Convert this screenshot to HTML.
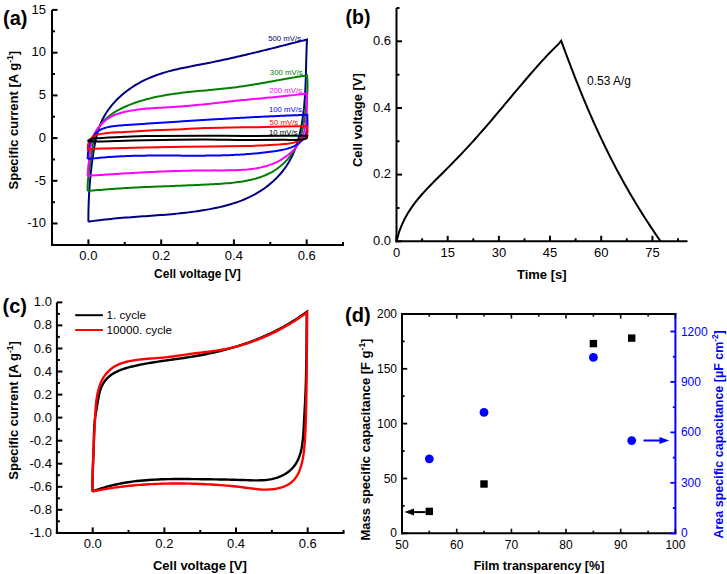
<!DOCTYPE html>
<html><head><meta charset="utf-8"><style>
html,body{margin:0;padding:0;background:#fff;}
svg{display:block;font-family:"Liberation Sans", sans-serif;}
</style></head><body>
<svg width="727" height="574" viewBox="0 0 727 574">
<rect width="727" height="574" fill="#fff"/>
<g>
<line x1="52" y1="9.9" x2="52" y2="245.9" stroke="#000" stroke-width="2" stroke-linecap="butt"/>
<line x1="51" y1="244.9" x2="344" y2="244.9" stroke="#000" stroke-width="2" stroke-linecap="butt"/>
<line x1="52" y1="244.9" x2="55" y2="244.9" stroke="#000" stroke-width="2" stroke-linecap="butt"/>
<line x1="52" y1="223.5" x2="57.5" y2="223.5" stroke="#000" stroke-width="2" stroke-linecap="butt"/>
<text x="46" y="227.2" font-size="13" text-anchor="end">-10</text>
<line x1="52" y1="202.2" x2="55" y2="202.2" stroke="#000" stroke-width="2" stroke-linecap="butt"/>
<line x1="52" y1="180.8" x2="57.5" y2="180.8" stroke="#000" stroke-width="2" stroke-linecap="butt"/>
<text x="46" y="184.5" font-size="13" text-anchor="end">-5</text>
<line x1="52" y1="159.5" x2="55" y2="159.5" stroke="#000" stroke-width="2" stroke-linecap="butt"/>
<line x1="52" y1="138.1" x2="57.5" y2="138.1" stroke="#000" stroke-width="2" stroke-linecap="butt"/>
<text x="46" y="141.8" font-size="13" text-anchor="end">0</text>
<line x1="52" y1="116.7" x2="55" y2="116.7" stroke="#000" stroke-width="2" stroke-linecap="butt"/>
<line x1="52" y1="95.4" x2="57.5" y2="95.4" stroke="#000" stroke-width="2" stroke-linecap="butt"/>
<text x="46" y="99.1" font-size="13" text-anchor="end">5</text>
<line x1="52" y1="74" x2="55" y2="74" stroke="#000" stroke-width="2" stroke-linecap="butt"/>
<line x1="52" y1="52.7" x2="57.5" y2="52.7" stroke="#000" stroke-width="2" stroke-linecap="butt"/>
<text x="46" y="56.4" font-size="13" text-anchor="end">10</text>
<line x1="52" y1="31.3" x2="55" y2="31.3" stroke="#000" stroke-width="2" stroke-linecap="butt"/>
<line x1="52" y1="9.9" x2="57.5" y2="9.9" stroke="#000" stroke-width="2" stroke-linecap="butt"/>
<text x="46" y="13.6" font-size="13" text-anchor="end">15</text>
<line x1="52" y1="244.9" x2="52" y2="241.9" stroke="#000" stroke-width="2" stroke-linecap="butt"/>
<line x1="88.4" y1="244.9" x2="88.4" y2="239.4" stroke="#000" stroke-width="2" stroke-linecap="butt"/>
<text x="88.4" y="259.7" font-size="13" text-anchor="middle">0.0</text>
<line x1="124.8" y1="244.9" x2="124.8" y2="241.9" stroke="#000" stroke-width="2" stroke-linecap="butt"/>
<line x1="161.2" y1="244.9" x2="161.2" y2="239.4" stroke="#000" stroke-width="2" stroke-linecap="butt"/>
<text x="161.2" y="259.7" font-size="13" text-anchor="middle">0.2</text>
<line x1="197.5" y1="244.9" x2="197.5" y2="241.9" stroke="#000" stroke-width="2" stroke-linecap="butt"/>
<line x1="233.9" y1="244.9" x2="233.9" y2="239.4" stroke="#000" stroke-width="2" stroke-linecap="butt"/>
<text x="233.9" y="259.7" font-size="13" text-anchor="middle">0.4</text>
<line x1="270.3" y1="244.9" x2="270.3" y2="241.9" stroke="#000" stroke-width="2" stroke-linecap="butt"/>
<line x1="306.7" y1="244.9" x2="306.7" y2="239.4" stroke="#000" stroke-width="2" stroke-linecap="butt"/>
<text x="306.7" y="259.7" font-size="13" text-anchor="middle">0.6</text>
<line x1="343" y1="244.9" x2="343" y2="241.9" stroke="#000" stroke-width="2" stroke-linecap="butt"/>
<text x="197.4" y="277.8" font-size="12" text-anchor="middle" font-weight="bold">Cell voltage [V]</text>
<text x="18.3" y="120.2" font-size="13" font-weight="bold" text-anchor="middle" transform="rotate(-90 18.3 120.2)">Specific current [A g<tspan font-size="8.5" dy="-5">-1</tspan><tspan dy="5">]</tspan></text>
<text x="3" y="24.8" font-size="20" font-weight="bold">(a)</text>
</g>
<path d="M88.40,221.70 L88.39,218.90 L88.40,216.11 L88.43,213.32 L88.48,210.54 L88.54,207.76 L88.62,204.99 L88.71,202.22 L88.83,199.45 L88.96,196.69 L89.10,193.93 L89.27,191.17 L89.45,188.41 L89.65,185.66 L89.86,182.90 L90.10,180.15 L90.35,177.40 L90.62,174.64 L90.90,171.89 L91.21,169.13 L91.53,166.38 L91.86,163.62 L92.22,160.86 L92.59,158.10 L92.98,155.34 L93.39,152.57 L93.82,149.80 L94.28,147.04 L94.78,144.29 L95.32,141.55 L95.91,138.82 L96.56,136.12 L97.27,133.44 L98.05,130.78 L98.90,128.16 L99.84,125.58 L100.87,123.03 L101.99,120.53 L103.22,118.08 L104.54,115.68 L105.96,113.32 L107.48,111.02 L109.08,108.77 L110.76,106.57 L112.52,104.43 L114.36,102.34 L116.28,100.31 L118.26,98.34 L120.30,96.42 L122.41,94.56 L124.57,92.76 L126.79,91.02 L129.06,89.35 L131.37,87.74 L133.72,86.19 L136.11,84.71 L138.54,83.29 L141.00,81.94 L143.48,80.66 L145.98,79.44 L148.51,78.30 L151.05,77.22 L153.62,76.20 L156.20,75.23 L158.79,74.33 L161.40,73.47 L164.03,72.66 L166.67,71.89 L169.32,71.16 L171.98,70.47 L174.65,69.81 L177.33,69.19 L180.02,68.58 L182.72,68.00 L185.42,67.44 L188.13,66.90 L190.84,66.37 L193.56,65.84 L196.28,65.33 L199.00,64.81 L201.72,64.29 L204.44,63.77 L207.16,63.23 L209.87,62.69 L212.59,62.14 L215.30,61.58 L218.01,61.01 L220.73,60.44 L223.44,59.85 L226.14,59.26 L228.85,58.66 L231.56,58.06 L234.26,57.45 L236.97,56.83 L239.67,56.20 L242.37,55.57 L245.07,54.94 L247.77,54.30 L250.47,53.65 L253.16,53.00 L255.86,52.35 L258.56,51.69 L261.25,51.03 L263.95,50.36 L266.64,49.69 L269.33,49.02 L272.03,48.35 L274.72,47.67 L277.41,46.99 L280.10,46.32 L282.79,45.63 L285.48,44.95 L288.17,44.27 L290.86,43.59 L293.55,42.90 L296.24,42.22 L298.93,41.54 L301.62,40.86 L304.31,40.18 L307.00,39.50 L307.00,39.50 L306.86,42.36 L306.74,45.22 L306.62,48.08 L306.53,50.95 L306.44,53.81 L306.36,56.68 L306.28,59.56 L306.21,62.43 L306.14,65.30 L306.07,68.18 L305.99,71.06 L305.92,73.93 L305.83,76.81 L305.74,79.68 L305.64,82.56 L305.53,85.43 L305.40,88.31 L305.25,91.18 L305.09,94.05 L304.91,96.92 L304.70,99.78 L304.47,102.64 L304.21,105.50 L303.93,108.36 L303.61,111.21 L303.26,114.06 L302.88,116.90 L302.46,119.74 L302.01,122.57 L301.51,125.40 L300.97,128.22 L300.38,131.04 L299.74,133.84 L299.05,136.62 L298.30,139.39 L297.49,142.14 L296.61,144.87 L295.66,147.57 L294.64,150.24 L293.54,152.88 L292.36,155.48 L291.10,158.05 L289.74,160.57 L288.30,163.06 L286.75,165.49 L285.11,167.88 L283.37,170.22 L281.54,172.50 L279.62,174.72 L277.62,176.89 L275.54,178.99 L273.40,181.02 L271.19,182.99 L268.92,184.88 L266.60,186.70 L264.23,188.45 L261.81,190.11 L259.36,191.69 L256.88,193.19 L254.37,194.61 L251.83,195.95 L249.26,197.21 L246.66,198.40 L244.05,199.53 L241.40,200.59 L238.74,201.58 L236.06,202.52 L233.35,203.40 L230.63,204.23 L227.90,205.01 L225.15,205.75 L222.39,206.44 L219.61,207.10 L216.83,207.72 L214.04,208.30 L211.24,208.86 L208.43,209.38 L205.62,209.88 L202.80,210.36 L199.98,210.80 L197.15,211.23 L194.31,211.63 L191.47,212.01 L188.62,212.37 L185.77,212.71 L182.92,213.03 L180.06,213.33 L177.20,213.62 L174.34,213.90 L171.47,214.16 L168.60,214.41 L165.72,214.65 L162.85,214.89 L159.97,215.11 L157.09,215.33 L154.22,215.54 L151.34,215.74 L148.46,215.95 L145.57,216.15 L142.69,216.35 L139.81,216.55 L136.93,216.76 L134.06,216.97 L131.18,217.18 L128.30,217.39 L125.43,217.62 L122.56,217.85 L119.69,218.09 L116.83,218.34 L113.96,218.60 L111.11,218.88 L108.25,219.17 L105.40,219.48 L102.55,219.80 L99.71,220.14 L96.88,220.50 L94.05,220.88 L91.22,221.28 L88.40,221.70" fill="none" stroke="#000080" stroke-width="2" stroke-linejoin="miter"/>
<path d="M87.70,191.10 L87.62,188.66 L87.62,186.24 L87.70,183.85 L87.84,181.46 L88.04,179.10 L88.29,176.74 L88.58,174.39 L88.90,172.05 L89.25,169.70 L89.62,167.36 L90.00,165.02 L90.38,162.67 L90.75,160.32 L91.10,157.95 L91.44,155.57 L91.74,153.17 L92.03,150.76 L92.32,148.36 L92.64,145.95 L92.99,143.56 L93.41,141.20 L93.91,138.86 L94.51,136.57 L95.24,134.32 L96.11,132.13 L97.13,130.00 L98.30,127.94 L99.61,125.96 L101.04,124.04 L102.58,122.21 L104.21,120.45 L105.93,118.79 L107.72,117.20 L109.58,115.71 L111.49,114.29 L113.46,112.94 L115.48,111.67 L117.55,110.47 L119.65,109.33 L121.79,108.25 L123.96,107.22 L126.16,106.25 L128.37,105.32 L130.60,104.44 L132.83,103.59 L135.08,102.79 L137.33,102.02 L139.60,101.29 L141.87,100.59 L144.15,99.92 L146.43,99.29 L148.73,98.69 L151.03,98.12 L153.33,97.58 L155.65,97.06 L157.97,96.57 L160.30,96.11 L162.63,95.67 L164.96,95.25 L167.31,94.85 L169.65,94.48 L172.01,94.12 L174.36,93.78 L176.72,93.46 L179.09,93.15 L181.46,92.86 L183.83,92.58 L186.20,92.31 L188.58,92.05 L190.96,91.80 L193.34,91.56 L195.72,91.32 L198.11,91.09 L200.49,90.87 L202.88,90.64 L205.27,90.42 L207.66,90.20 L210.05,89.98 L212.44,89.76 L214.83,89.54 L217.22,89.31 L219.60,89.07 L221.99,88.83 L224.38,88.58 L226.76,88.33 L229.14,88.06 L231.52,87.78 L233.90,87.49 L236.27,87.18 L238.64,86.86 L241.01,86.53 L243.38,86.18 L245.74,85.83 L248.11,85.46 L250.47,85.08 L252.83,84.70 L255.18,84.30 L257.54,83.90 L259.89,83.49 L262.25,83.08 L264.60,82.66 L266.95,82.24 L269.30,81.82 L271.66,81.40 L274.01,80.97 L276.36,80.54 L278.71,80.12 L281.06,79.70 L283.41,79.27 L285.77,78.86 L288.12,78.44 L290.47,78.04 L292.83,77.63 L295.19,77.24 L297.55,76.85 L299.91,76.47 L302.27,76.11 L304.63,75.75 L307.00,75.40 L307.00,75.40 L307.24,77.90 L307.40,80.39 L307.50,82.87 L307.54,85.34 L307.52,87.81 L307.45,90.27 L307.34,92.73 L307.18,95.19 L306.98,97.64 L306.76,100.10 L306.50,102.55 L306.23,105.01 L305.93,107.46 L305.62,109.92 L305.31,112.39 L304.99,114.85 L304.65,117.32 L304.29,119.78 L303.91,122.24 L303.48,124.69 L303.02,127.12 L302.49,129.54 L301.91,131.95 L301.26,134.32 L300.53,136.68 L299.72,139.00 L298.82,141.29 L297.82,143.54 L296.74,145.76 L295.58,147.93 L294.33,150.06 L293.01,152.14 L291.61,154.17 L290.13,156.14 L288.58,158.05 L286.96,159.89 L285.28,161.68 L283.53,163.39 L281.72,165.03 L279.85,166.59 L277.92,168.07 L275.94,169.47 L273.91,170.79 L271.83,172.02 L269.70,173.16 L267.53,174.23 L265.31,175.22 L263.06,176.13 L260.77,176.98 L258.44,177.76 L256.08,178.48 L253.69,179.13 L251.28,179.73 L248.84,180.28 L246.38,180.78 L243.89,181.23 L241.39,181.64 L238.87,182.00 L236.34,182.33 L233.80,182.63 L231.25,182.89 L228.69,183.13 L226.13,183.35 L223.57,183.54 L221.01,183.72 L218.45,183.88 L215.90,184.04 L213.36,184.18 L210.83,184.32 L208.30,184.45 L205.79,184.58 L203.28,184.71 L200.78,184.83 L198.28,184.94 L195.80,185.06 L193.32,185.17 L190.84,185.27 L188.38,185.37 L185.92,185.47 L183.46,185.57 L181.01,185.67 L178.56,185.76 L176.11,185.86 L173.67,185.95 L171.24,186.04 L168.80,186.13 L166.37,186.22 L163.94,186.32 L161.51,186.41 L159.09,186.50 L156.66,186.60 L154.24,186.70 L151.81,186.80 L149.39,186.90 L146.97,187.00 L144.54,187.11 L142.11,187.22 L139.69,187.33 L137.26,187.45 L134.82,187.57 L132.39,187.70 L129.95,187.83 L127.51,187.96 L125.07,188.10 L122.62,188.25 L120.16,188.40 L117.71,188.56 L115.24,188.73 L112.77,188.91 L110.30,189.09 L107.82,189.27 L105.33,189.47 L102.84,189.68 L100.33,189.89 L97.82,190.11 L95.31,190.35 L92.78,190.59 L90.24,190.84 L87.70,191.10" fill="none" stroke="#008000" stroke-width="2" stroke-linejoin="miter"/>
<path d="M87.70,175.80 L87.76,173.57 L87.88,171.35 L88.05,169.14 L88.26,166.94 L88.50,164.74 L88.76,162.54 L89.03,160.34 L89.32,158.13 L89.59,155.92 L89.86,153.70 L90.12,151.47 L90.39,149.24 L90.69,147.02 L91.04,144.82 L91.45,142.64 L91.95,140.49 L92.55,138.39 L93.27,136.33 L94.14,134.32 L95.16,132.38 L96.34,130.51 L97.65,128.70 L99.06,126.93 L100.54,125.21 L102.07,123.53 L103.66,121.93 L105.31,120.44 L107.05,119.07 L108.87,117.85 L110.76,116.76 L112.71,115.78 L114.72,114.91 L116.78,114.14 L118.87,113.45 L121.00,112.83 L123.15,112.27 L125.32,111.76 L127.49,111.29 L129.67,110.87 L131.86,110.47 L134.06,110.12 L136.27,109.79 L138.48,109.50 L140.70,109.23 L142.92,108.99 L145.14,108.77 L147.37,108.57 L149.61,108.39 L151.85,108.22 L154.08,108.07 L156.32,107.93 L158.57,107.79 L160.81,107.67 L163.05,107.55 L165.29,107.43 L167.53,107.31 L169.77,107.18 L172.01,107.06 L174.24,106.92 L176.47,106.78 L178.70,106.62 L180.92,106.46 L183.14,106.28 L185.36,106.10 L187.57,105.91 L189.79,105.71 L192.00,105.51 L194.20,105.30 L196.41,105.08 L198.61,104.86 L200.82,104.63 L203.02,104.40 L205.22,104.16 L207.42,103.93 L209.62,103.68 L211.81,103.44 L214.01,103.20 L216.21,102.95 L218.41,102.71 L220.61,102.46 L222.81,102.22 L225.01,101.97 L227.21,101.73 L229.41,101.49 L231.61,101.25 L233.82,101.02 L236.02,100.79 L238.23,100.56 L240.44,100.34 L242.65,100.12 L244.86,99.91 L247.08,99.69 L249.29,99.48 L251.51,99.27 L253.73,99.06 L255.94,98.86 L258.16,98.65 L260.38,98.44 L262.60,98.24 L264.82,98.03 L267.03,97.82 L269.25,97.61 L271.47,97.40 L273.69,97.19 L275.91,96.97 L278.12,96.75 L280.34,96.53 L282.55,96.31 L284.76,96.08 L286.98,95.85 L289.19,95.61 L291.40,95.37 L293.60,95.12 L295.81,94.87 L298.01,94.61 L300.21,94.34 L302.41,94.07 L304.61,93.79 L306.80,93.50 L306.80,93.50 L306.81,95.69 L306.84,97.91 L306.86,100.16 L306.88,102.44 L306.89,104.73 L306.88,107.04 L306.85,109.36 L306.78,111.69 L306.69,114.01 L306.55,116.34 L306.36,118.65 L306.12,120.95 L305.83,123.23 L305.47,125.49 L305.03,127.72 L304.52,129.92 L303.93,132.09 L303.25,134.21 L302.47,136.29 L301.60,138.31 L300.61,140.28 L299.52,142.20 L298.34,144.05 L297.06,145.85 L295.68,147.58 L294.23,149.25 L292.69,150.87 L291.08,152.41 L289.40,153.89 L287.65,155.31 L285.84,156.66 L283.98,157.94 L282.07,159.15 L280.11,160.28 L278.11,161.35 L276.08,162.35 L274.01,163.27 L271.92,164.12 L269.80,164.89 L267.66,165.61 L265.50,166.25 L263.31,166.84 L261.10,167.37 L258.87,167.84 L256.62,168.26 L254.36,168.63 L252.08,168.96 L249.79,169.24 L247.49,169.49 L245.17,169.69 L242.85,169.87 L240.51,170.01 L238.17,170.12 L235.82,170.21 L233.47,170.28 L231.12,170.32 L228.76,170.36 L226.41,170.37 L224.05,170.38 L221.70,170.38 L219.35,170.38 L217.00,170.38 L214.67,170.37 L212.34,170.38 L210.01,170.38 L207.70,170.39 L205.39,170.41 L203.09,170.43 L200.79,170.46 L198.50,170.49 L196.22,170.52 L193.94,170.56 L191.67,170.61 L189.40,170.65 L187.13,170.70 L184.88,170.76 L182.62,170.82 L180.37,170.88 L178.12,170.95 L175.88,171.02 L173.63,171.09 L171.39,171.17 L169.16,171.25 L166.92,171.34 L164.69,171.42 L162.46,171.52 L160.22,171.61 L157.99,171.71 L155.77,171.81 L153.54,171.91 L151.31,172.02 L149.08,172.12 L146.85,172.24 L144.62,172.35 L142.38,172.47 L140.15,172.58 L137.91,172.71 L135.68,172.83 L133.44,172.95 L131.19,173.08 L128.95,173.21 L126.70,173.34 L124.45,173.48 L122.19,173.61 L119.93,173.75 L117.67,173.89 L115.40,174.03 L113.12,174.17 L110.84,174.31 L108.56,174.46 L106.27,174.60 L103.97,174.75 L101.67,174.90 L99.36,175.04 L97.04,175.19 L94.72,175.34 L92.39,175.50 L90.05,175.65 L87.70,175.80" fill="none" stroke="#ff00ff" stroke-width="2" stroke-linejoin="miter"/>
<path d="M87.70,159.10 L87.77,157.15 L87.87,155.15 L88.00,153.11 L88.20,151.04 L88.48,148.98 L88.86,146.93 L89.35,144.90 L89.96,142.92 L90.70,141.00 L91.56,139.15 L92.54,137.39 L93.66,135.73 L94.89,134.18 L96.26,132.77 L97.75,131.50 L99.37,130.39 L101.11,129.44 L102.95,128.63 L104.87,127.95 L106.86,127.39 L108.88,126.92 L110.93,126.54 L112.99,126.22 L115.04,125.95 L117.09,125.73 L119.13,125.54 L121.18,125.38 L123.22,125.23 L125.26,125.09 L127.30,124.96 L129.34,124.82 L131.38,124.69 L133.41,124.56 L135.45,124.42 L137.48,124.29 L139.52,124.15 L141.55,124.02 L143.58,123.88 L145.61,123.75 L147.64,123.61 L149.66,123.48 L151.69,123.35 L153.72,123.21 L155.74,123.08 L157.76,122.94 L159.79,122.81 L161.81,122.68 L163.83,122.55 L165.85,122.41 L167.87,122.28 L169.89,122.15 L171.91,122.02 L173.93,121.89 L175.94,121.76 L177.96,121.63 L179.98,121.50 L181.99,121.37 L184.01,121.24 L186.02,121.11 L188.04,120.98 L190.05,120.85 L192.06,120.73 L194.08,120.60 L196.09,120.47 L198.10,120.35 L200.12,120.22 L202.13,120.10 L204.14,119.97 L206.15,119.85 L208.17,119.73 L210.18,119.61 L212.19,119.48 L214.20,119.36 L216.21,119.24 L218.23,119.12 L220.24,119.01 L222.25,118.89 L224.26,118.77 L226.28,118.65 L228.29,118.54 L230.30,118.42 L232.32,118.31 L234.33,118.20 L236.34,118.08 L238.36,117.97 L240.37,117.86 L242.39,117.75 L244.40,117.64 L246.42,117.53 L248.44,117.43 L250.45,117.32 L252.47,117.22 L254.49,117.11 L256.51,117.01 L258.53,116.91 L260.55,116.80 L262.57,116.70 L264.59,116.61 L266.62,116.51 L268.64,116.41 L270.67,116.32 L272.69,116.22 L274.72,116.13 L276.75,116.03 L278.78,115.94 L280.81,115.85 L282.84,115.76 L284.87,115.68 L286.90,115.59 L288.94,115.51 L290.97,115.42 L293.01,115.34 L295.04,115.26 L297.08,115.18 L299.12,115.10 L301.17,115.02 L303.21,114.95 L305.25,114.87 L307.30,114.80 L307.30,114.80 L307.34,116.76 L307.40,118.79 L307.44,120.86 L307.45,122.96 L307.40,125.07 L307.26,127.17 L307.01,129.25 L306.62,131.28 L306.07,133.26 L305.33,135.16 L304.38,136.96 L303.25,138.66 L301.98,140.23 L300.60,141.66 L299.12,142.95 L297.56,144.11 L295.91,145.15 L294.20,146.08 L292.41,146.91 L290.57,147.64 L288.67,148.29 L286.73,148.86 L284.75,149.37 L282.74,149.81 L280.70,150.21 L278.64,150.57 L276.58,150.90 L274.50,151.21 L272.43,151.51 L270.36,151.79 L268.29,152.06 L266.22,152.31 L264.15,152.56 L262.08,152.79 L260.01,153.01 L257.95,153.22 L255.88,153.42 L253.82,153.61 L251.76,153.79 L249.70,153.95 L247.64,154.11 L245.58,154.26 L243.52,154.40 L241.46,154.53 L239.40,154.65 L237.35,154.76 L235.29,154.86 L233.24,154.96 L231.18,155.05 L229.13,155.13 L227.08,155.21 L225.03,155.27 L222.97,155.33 L220.92,155.39 L218.87,155.44 L216.82,155.48 L214.77,155.52 L212.73,155.55 L210.68,155.58 L208.63,155.61 L206.58,155.62 L204.54,155.64 L202.49,155.65 L200.44,155.66 L198.40,155.67 L196.35,155.67 L194.31,155.67 L192.26,155.67 L190.22,155.66 L188.17,155.65 L186.13,155.65 L184.08,155.64 L182.04,155.63 L179.99,155.62 L177.95,155.61 L175.91,155.60 L173.86,155.59 L171.82,155.58 L169.77,155.57 L167.73,155.56 L165.69,155.55 L163.64,155.55 L161.60,155.55 L159.55,155.55 L157.51,155.55 L155.46,155.55 L153.42,155.56 L151.37,155.57 L149.33,155.59 L147.28,155.60 L145.23,155.63 L143.19,155.65 L141.14,155.69 L139.09,155.72 L137.05,155.76 L135.00,155.81 L132.95,155.87 L130.90,155.93 L128.85,155.99 L126.80,156.07 L124.75,156.15 L122.70,156.23 L120.64,156.33 L118.59,156.43 L116.54,156.54 L114.48,156.66 L112.43,156.79 L110.37,156.92 L108.32,157.07 L106.26,157.23 L104.20,157.39 L102.14,157.57 L100.08,157.75 L98.02,157.95 L95.96,158.16 L93.89,158.37 L91.83,158.60 L89.77,158.85 L87.70,159.10" fill="none" stroke="#0000ff" stroke-width="2" stroke-linejoin="miter"/>
<path d="M87.8,150 C87.9,148.1 87.7,146.2 88.1,144.4 C88.5,142.5 89.4,140.4 90.5,139 C91.5,137.7 92.7,136.8 94,136 C95.4,135.2 96.9,134.8 98.6,134.4 C100.7,133.9 103.6,133.5 105.9,133.2 C107.9,132.9 109.3,132.8 111.6,132.6 C115.1,132.3 120.1,132.3 125,132 C131,131.7 137.7,131.2 145,130.8 C154,130.3 165,129.9 175,129.5 C185,129 193.3,128.5 205,128.1 C221.6,127.6 251.1,127.3 265,127 C272.4,126.8 275.8,126.7 282,126.6 C289.6,126.5 298.9,126.3 307.3,126.2 L307.3,126.2 C307.3,128.7 307.9,131.5 307.3,133.6 C306.8,135.4 305.8,136.8 304.3,138.1 C302.5,139.6 299.4,140.7 296.9,141.6 C294.4,142.5 292.3,143.1 289.4,143.6 C285.3,144.3 279.5,144.5 274.6,144.8 C269.7,145.1 264.7,145.4 259.8,145.6 C254.9,145.8 251.6,145.9 245,146 C231.7,146.3 203,146.4 185,146.7 C170.3,146.9 156,147.2 145,147.5 C137.2,147.7 132.3,147.9 125,148.1 C116.1,148.3 102.1,148.1 95.5,148.7 C92.1,149 90.4,149.6 87.8,150" fill="none" stroke="#ff0000" stroke-width="2" stroke-linejoin="miter"/>
<path d="M87.5,141 C89,140.3 90.3,139.3 92,138.8 C94,138.2 95.9,138.4 98.9,138.2 C104.8,137.8 116.9,137.2 125,136.8 C132.1,136.5 136.5,136.2 145,136 C159.6,135.7 187,135.7 205,135.7 C219.7,135.7 230.2,135.9 245,135.9 C263.5,135.9 286.5,135.8 307.3,135.8 L307.3,135.8 C307.1,136.6 307.3,137.6 306.8,138.2 C306.1,139 304.8,139.3 303,139.6 C298.9,140.4 290,139.7 282,139.8 C271.4,139.9 257.6,140.1 245,140.1 C231.9,140.1 219.7,139.5 205,139.5 C187,139.5 159.6,139.9 145,140.2 C136.5,140.4 132.1,140.5 125,140.7 C116.9,140.9 105.8,141.4 98.9,141.4 C94.3,141.4 91.3,141.1 87.5,141" fill="none" stroke="#000000" stroke-width="2" stroke-linejoin="miter"/>
<text x="268.2" y="41.4" font-size="7.8" fill="#000080">500 mV/s</text>
<text x="269.8" y="74.7" font-size="7.8" fill="#008000">300 mV/s</text>
<text x="269.2" y="93" font-size="7.8" fill="#ff00ff">200 mV/s</text>
<text x="268.9" y="112.3" font-size="7.8" fill="#0000ff">100 mV/s</text>
<text x="269.6" y="125.4" font-size="7.8" fill="#ff0000">50 mV/s</text>
<text x="268.9" y="134.5" font-size="7.8" fill="#000000">10 mV/s</text>
<line x1="396.5" y1="8" x2="396.5" y2="242.3" stroke="#000" stroke-width="2" stroke-linecap="butt"/>
<line x1="395.5" y1="241.3" x2="687.5" y2="241.3" stroke="#000" stroke-width="2" stroke-linecap="butt"/>
<line x1="396.5" y1="241.3" x2="402" y2="241.3" stroke="#000" stroke-width="2" stroke-linecap="butt"/>
<text x="391" y="245.1" font-size="13" text-anchor="end">0.0</text>
<line x1="396.5" y1="208" x2="399.5" y2="208" stroke="#000" stroke-width="2" stroke-linecap="butt"/>
<line x1="396.5" y1="174.6" x2="402" y2="174.6" stroke="#000" stroke-width="2" stroke-linecap="butt"/>
<text x="391" y="178.4" font-size="13" text-anchor="end">0.2</text>
<line x1="396.5" y1="141.3" x2="399.5" y2="141.3" stroke="#000" stroke-width="2" stroke-linecap="butt"/>
<line x1="396.5" y1="108" x2="402" y2="108" stroke="#000" stroke-width="2" stroke-linecap="butt"/>
<text x="391" y="111.8" font-size="13" text-anchor="end">0.4</text>
<line x1="396.5" y1="74.7" x2="399.5" y2="74.7" stroke="#000" stroke-width="2" stroke-linecap="butt"/>
<line x1="396.5" y1="41.3" x2="402" y2="41.3" stroke="#000" stroke-width="2" stroke-linecap="butt"/>
<text x="391" y="45.1" font-size="13" text-anchor="end">0.6</text>
<line x1="396.5" y1="8" x2="399.5" y2="8" stroke="#000" stroke-width="2" stroke-linecap="butt"/>
<line x1="396.5" y1="241.3" x2="396.5" y2="235.8" stroke="#000" stroke-width="2" stroke-linecap="butt"/>
<text x="396.5" y="256.9" font-size="13" text-anchor="middle">0</text>
<line x1="422.1" y1="241.3" x2="422.1" y2="238.3" stroke="#000" stroke-width="2" stroke-linecap="butt"/>
<line x1="447.7" y1="241.3" x2="447.7" y2="235.8" stroke="#000" stroke-width="2" stroke-linecap="butt"/>
<text x="447.7" y="256.9" font-size="13" text-anchor="middle">15</text>
<line x1="473.3" y1="241.3" x2="473.3" y2="238.3" stroke="#000" stroke-width="2" stroke-linecap="butt"/>
<line x1="498.9" y1="241.3" x2="498.9" y2="235.8" stroke="#000" stroke-width="2" stroke-linecap="butt"/>
<text x="498.9" y="256.9" font-size="13" text-anchor="middle">30</text>
<line x1="524.5" y1="241.3" x2="524.5" y2="238.3" stroke="#000" stroke-width="2" stroke-linecap="butt"/>
<line x1="550" y1="241.3" x2="550" y2="235.8" stroke="#000" stroke-width="2" stroke-linecap="butt"/>
<text x="550" y="256.9" font-size="13" text-anchor="middle">45</text>
<line x1="575.6" y1="241.3" x2="575.6" y2="238.3" stroke="#000" stroke-width="2" stroke-linecap="butt"/>
<line x1="601.2" y1="241.3" x2="601.2" y2="235.8" stroke="#000" stroke-width="2" stroke-linecap="butt"/>
<text x="601.2" y="256.9" font-size="13" text-anchor="middle">60</text>
<line x1="626.8" y1="241.3" x2="626.8" y2="238.3" stroke="#000" stroke-width="2" stroke-linecap="butt"/>
<line x1="652.4" y1="241.3" x2="652.4" y2="235.8" stroke="#000" stroke-width="2" stroke-linecap="butt"/>
<text x="652.4" y="256.9" font-size="13" text-anchor="middle">75</text>
<line x1="678" y1="241.3" x2="678" y2="238.3" stroke="#000" stroke-width="2" stroke-linecap="butt"/>
<path d="M396.50,241.30 L399.29,231.35 L402.08,224.30 L404.87,218.50 L407.67,213.51 L410.46,209.10 L413.25,205.10 L416.04,201.43 L418.83,198.00 L421.62,194.75 L424.42,191.65 L427.21,188.66 L430.00,185.74 L432.79,182.88 L435.58,180.06 L438.37,177.27 L441.16,174.48 L443.96,171.69 L446.75,168.89 L449.54,166.08 L452.33,163.24 L455.12,160.38 L457.91,157.49 L460.71,154.57 L463.50,151.62 L466.29,148.63 L469.08,145.61 L471.87,142.55 L474.66,139.46 L477.45,136.34 L480.25,133.18 L483.04,130.00 L485.83,126.79 L488.62,123.55 L491.41,120.29 L494.20,117.01 L496.99,113.71 L499.79,110.39 L502.58,107.07 L505.37,103.73 L508.16,100.40 L510.95,97.06 L513.74,93.72 L516.54,90.40 L519.33,87.08 L522.12,83.78 L524.91,80.49 L527.70,77.23 L530.49,74.00 L533.28,70.80 L536.08,67.63 L538.87,64.51 L541.66,61.43 L544.45,58.40 L547.24,55.43 L550.03,52.51 L552.83,49.65 L555.62,46.87 L558.41,44.15 L561.20,40.70 L562.69,44.79 L564.19,48.89 L565.70,52.98 L567.22,57.08 L568.75,61.17 L570.30,65.26 L571.87,69.36 L573.45,73.45 L575.04,77.54 L576.65,81.64 L578.28,85.73 L579.93,89.83 L581.59,93.92 L583.28,98.01 L584.99,102.11 L586.71,106.20 L588.46,110.30 L590.24,114.39 L592.03,118.48 L593.85,122.58 L595.70,126.67 L597.57,130.77 L599.47,134.86 L601.39,138.95 L603.34,143.05 L605.33,147.14 L607.34,151.23 L609.38,155.33 L611.45,159.42 L613.56,163.52 L615.69,167.61 L617.86,171.70 L620.07,175.80 L622.31,179.89 L624.58,183.99 L626.90,188.08 L629.24,192.17 L631.63,196.27 L634.06,200.36 L636.52,204.46 L639.03,208.55 L641.57,212.64 L644.16,216.74 L646.79,220.83 L649.46,224.92 L652.18,229.02 L654.94,233.11 L657.75,237.21 L660.60,241.30" fill="none" stroke="#000" stroke-width="2" stroke-linejoin="miter"/>
<text x="541.8" y="278.7" font-size="13" text-anchor="middle" font-weight="bold">Time [s]</text>
<text x="362.3" y="120.1" font-size="13" text-anchor="middle" font-weight="bold" transform="rotate(-90 362.3 120.1)">Cell voltage [V]</text>
<text x="587" y="84.5" font-size="12">0.53 A/g</text>
<text x="345.5" y="23.5" font-size="19.5" font-weight="bold">(b)</text>
<line x1="56.9" y1="302.4" x2="56.9" y2="533.9" stroke="#000" stroke-width="2" stroke-linecap="butt"/>
<line x1="55.9" y1="532.9" x2="344.5" y2="532.9" stroke="#000" stroke-width="2" stroke-linecap="butt"/>
<line x1="56.9" y1="532.9" x2="62.4" y2="532.9" stroke="#000" stroke-width="2" stroke-linecap="butt"/>
<text x="51.9" y="536.9" font-size="13" text-anchor="end">-1.0</text>
<line x1="56.9" y1="521.3" x2="59.9" y2="521.3" stroke="#000" stroke-width="2" stroke-linecap="butt"/>
<line x1="56.9" y1="509.8" x2="62.4" y2="509.8" stroke="#000" stroke-width="2" stroke-linecap="butt"/>
<text x="51.9" y="513.8" font-size="13" text-anchor="end">-0.8</text>
<line x1="56.9" y1="498.3" x2="59.9" y2="498.3" stroke="#000" stroke-width="2" stroke-linecap="butt"/>
<line x1="56.9" y1="486.8" x2="62.4" y2="486.8" stroke="#000" stroke-width="2" stroke-linecap="butt"/>
<text x="51.9" y="490.8" font-size="13" text-anchor="end">-0.6</text>
<line x1="56.9" y1="475.2" x2="59.9" y2="475.2" stroke="#000" stroke-width="2" stroke-linecap="butt"/>
<line x1="56.9" y1="463.7" x2="62.4" y2="463.7" stroke="#000" stroke-width="2" stroke-linecap="butt"/>
<text x="51.9" y="467.7" font-size="13" text-anchor="end">-0.4</text>
<line x1="56.9" y1="452.2" x2="59.9" y2="452.2" stroke="#000" stroke-width="2" stroke-linecap="butt"/>
<line x1="56.9" y1="440.7" x2="62.4" y2="440.7" stroke="#000" stroke-width="2" stroke-linecap="butt"/>
<text x="51.9" y="444.7" font-size="13" text-anchor="end">-0.2</text>
<line x1="56.9" y1="429.1" x2="59.9" y2="429.1" stroke="#000" stroke-width="2" stroke-linecap="butt"/>
<line x1="56.9" y1="417.6" x2="62.4" y2="417.6" stroke="#000" stroke-width="2" stroke-linecap="butt"/>
<text x="51.9" y="421.6" font-size="13" text-anchor="end">0.0</text>
<line x1="56.9" y1="406.1" x2="59.9" y2="406.1" stroke="#000" stroke-width="2" stroke-linecap="butt"/>
<line x1="56.9" y1="394.6" x2="62.4" y2="394.6" stroke="#000" stroke-width="2" stroke-linecap="butt"/>
<text x="51.9" y="398.6" font-size="13" text-anchor="end">0.2</text>
<line x1="56.9" y1="383" x2="59.9" y2="383" stroke="#000" stroke-width="2" stroke-linecap="butt"/>
<line x1="56.9" y1="371.5" x2="62.4" y2="371.5" stroke="#000" stroke-width="2" stroke-linecap="butt"/>
<text x="51.9" y="375.5" font-size="13" text-anchor="end">0.4</text>
<line x1="56.9" y1="360" x2="59.9" y2="360" stroke="#000" stroke-width="2" stroke-linecap="butt"/>
<line x1="56.9" y1="348.5" x2="62.4" y2="348.5" stroke="#000" stroke-width="2" stroke-linecap="butt"/>
<text x="51.9" y="352.5" font-size="13" text-anchor="end">0.6</text>
<line x1="56.9" y1="336.9" x2="59.9" y2="336.9" stroke="#000" stroke-width="2" stroke-linecap="butt"/>
<line x1="56.9" y1="325.4" x2="62.4" y2="325.4" stroke="#000" stroke-width="2" stroke-linecap="butt"/>
<text x="51.9" y="329.4" font-size="13" text-anchor="end">0.8</text>
<line x1="56.9" y1="313.9" x2="59.9" y2="313.9" stroke="#000" stroke-width="2" stroke-linecap="butt"/>
<line x1="56.9" y1="302.4" x2="62.4" y2="302.4" stroke="#000" stroke-width="2" stroke-linecap="butt"/>
<text x="51.9" y="306.4" font-size="13" text-anchor="end">1.0</text>
<line x1="56.9" y1="532.9" x2="56.9" y2="529.9" stroke="#000" stroke-width="2" stroke-linecap="butt"/>
<line x1="92.7" y1="532.9" x2="92.7" y2="527.4" stroke="#000" stroke-width="2" stroke-linecap="butt"/>
<text x="92.7" y="548.1" font-size="13" text-anchor="middle">0.0</text>
<line x1="128.5" y1="532.9" x2="128.5" y2="529.9" stroke="#000" stroke-width="2" stroke-linecap="butt"/>
<line x1="164.4" y1="532.9" x2="164.4" y2="527.4" stroke="#000" stroke-width="2" stroke-linecap="butt"/>
<text x="164.4" y="548.1" font-size="13" text-anchor="middle">0.2</text>
<line x1="200.2" y1="532.9" x2="200.2" y2="529.9" stroke="#000" stroke-width="2" stroke-linecap="butt"/>
<line x1="236" y1="532.9" x2="236" y2="527.4" stroke="#000" stroke-width="2" stroke-linecap="butt"/>
<text x="236" y="548.1" font-size="13" text-anchor="middle">0.4</text>
<line x1="271.9" y1="532.9" x2="271.9" y2="529.9" stroke="#000" stroke-width="2" stroke-linecap="butt"/>
<line x1="307.7" y1="532.9" x2="307.7" y2="527.4" stroke="#000" stroke-width="2" stroke-linecap="butt"/>
<text x="307.7" y="548.1" font-size="13" text-anchor="middle">0.6</text>
<line x1="343.5" y1="532.9" x2="343.5" y2="529.9" stroke="#000" stroke-width="2" stroke-linecap="butt"/>
<path d="M92.50,491.50 L92.46,488.73 L92.45,485.96 L92.47,483.20 L92.50,480.44 L92.56,477.68 L92.63,474.92 L92.72,472.16 L92.81,469.40 L92.92,466.64 L93.03,463.89 L93.15,461.13 L93.26,458.37 L93.38,455.61 L93.49,452.85 L93.59,450.08 L93.68,447.32 L93.76,444.55 L93.83,441.78 L93.89,439.01 L93.94,436.24 L94.01,433.47 L94.10,430.70 L94.22,427.94 L94.38,425.19 L94.59,422.44 L94.86,419.70 L95.21,416.97 L95.62,414.25 L96.08,411.54 L96.57,408.82 L97.06,406.09 L97.51,403.35 L97.96,400.60 L98.42,397.86 L98.96,395.13 L99.60,392.43 L100.38,389.78 L101.35,387.19 L102.53,384.69 L103.93,382.31 L105.55,380.09 L107.40,378.05 L109.46,376.21 L111.68,374.56 L114.01,373.09 L116.45,371.80 L118.97,370.65 L121.56,369.63 L124.20,368.73 L126.88,367.92 L129.59,367.18 L132.31,366.50 L135.03,365.86 L137.75,365.26 L140.46,364.69 L143.18,364.15 L145.89,363.64 L148.61,363.16 L151.32,362.70 L154.03,362.25 L156.74,361.83 L159.45,361.42 L162.17,361.02 L164.88,360.63 L167.59,360.25 L170.30,359.87 L173.01,359.50 L175.73,359.12 L178.44,358.74 L181.16,358.35 L183.88,357.95 L186.60,357.55 L189.32,357.12 L192.04,356.68 L194.76,356.23 L197.49,355.75 L200.21,355.26 L202.93,354.74 L205.66,354.21 L208.37,353.66 L211.09,353.08 L213.80,352.49 L216.51,351.87 L219.21,351.23 L221.90,350.56 L224.59,349.88 L227.27,349.16 L229.94,348.42 L232.60,347.66 L235.25,346.87 L237.90,346.06 L240.53,345.22 L243.15,344.35 L245.77,343.46 L248.37,342.54 L250.96,341.59 L253.54,340.61 L256.11,339.61 L258.67,338.58 L261.22,337.53 L263.75,336.44 L266.27,335.33 L268.78,334.19 L271.27,333.01 L273.75,331.81 L276.21,330.58 L278.66,329.32 L281.10,328.03 L283.52,326.71 L285.92,325.36 L288.31,323.98 L290.68,322.57 L293.04,321.13 L295.37,319.65 L297.70,318.15 L300.00,316.61 L302.28,315.04 L304.55,313.44 L306.80,311.80 L306.80,311.80 L306.76,314.85 L306.72,317.91 L306.69,320.96 L306.66,324.02 L306.63,327.07 L306.60,330.12 L306.58,333.18 L306.56,336.23 L306.53,339.29 L306.51,342.34 L306.49,345.40 L306.46,348.45 L306.43,351.50 L306.40,354.56 L306.37,357.61 L306.33,360.67 L306.29,363.72 L306.24,366.78 L306.18,369.83 L306.12,372.88 L306.06,375.94 L305.98,378.99 L305.90,382.04 L305.80,385.10 L305.70,388.15 L305.59,391.20 L305.46,394.25 L305.33,397.31 L305.18,400.36 L305.02,403.41 L304.85,406.46 L304.68,409.51 L304.51,412.56 L304.33,415.61 L304.17,418.66 L304.02,421.70 L303.87,424.75 L303.72,427.79 L303.54,430.84 L303.34,433.88 L303.10,436.93 L302.80,439.98 L302.43,443.03 L301.98,446.07 L301.42,449.08 L300.72,452.07 L299.86,455.00 L298.82,457.87 L297.58,460.64 L296.13,463.28 L294.45,465.76 L292.55,468.05 L290.43,470.14 L288.12,472.03 L285.64,473.73 L283.03,475.21 L280.31,476.49 L277.49,477.55 L274.61,478.42 L271.66,479.09 L268.66,479.60 L265.61,479.96 L262.53,480.19 L259.41,480.32 L256.28,480.36 L253.14,480.33 L249.99,480.25 L246.84,480.15 L243.71,480.04 L240.60,479.93 L237.51,479.84 L234.43,479.75 L231.37,479.68 L228.33,479.61 L225.29,479.54 L222.26,479.49 L219.24,479.44 L216.23,479.39 L213.21,479.35 L210.20,479.31 L207.19,479.27 L204.17,479.23 L201.15,479.20 L198.12,479.16 L195.09,479.13 L192.04,479.10 L189.00,479.07 L185.94,479.05 L182.88,479.03 L179.82,479.03 L176.75,479.04 L173.69,479.06 L170.62,479.10 L167.55,479.15 L164.47,479.23 L161.40,479.32 L158.33,479.44 L155.26,479.58 L152.20,479.75 L149.14,479.95 L146.08,480.18 L143.02,480.44 L139.97,480.73 L136.93,481.06 L133.90,481.42 L130.87,481.83 L127.85,482.27 L124.84,482.76 L121.83,483.30 L118.84,483.88 L115.86,484.51 L112.89,485.19 L109.94,485.92 L106.99,486.70 L104.06,487.54 L101.15,488.44 L98.25,489.40 L95.37,490.42 L92.50,491.50" fill="none" stroke="#000000" stroke-width="2.4" stroke-linejoin="miter"/>
<path d="M92.50,491.50 L92.50,488.68 L92.51,485.87 L92.53,483.06 L92.57,480.25 L92.62,477.44 L92.67,474.63 L92.74,471.83 L92.81,469.02 L92.89,466.22 L92.98,463.42 L93.08,460.62 L93.19,457.82 L93.30,455.02 L93.42,452.22 L93.54,449.42 L93.66,446.62 L93.80,443.82 L93.93,441.01 L94.07,438.21 L94.21,435.41 L94.35,432.61 L94.50,429.80 L94.64,426.99 L94.79,424.19 L94.93,421.38 L95.08,418.56 L95.22,415.75 L95.37,412.93 L95.54,410.12 L95.73,407.31 L95.97,404.51 L96.26,401.72 L96.61,398.94 L97.04,396.17 L97.56,393.42 L98.17,390.69 L98.90,387.98 L99.75,385.30 L100.77,382.68 L101.96,380.14 L103.36,377.69 L104.95,375.35 L106.72,373.14 L108.65,371.08 L110.73,369.19 L112.96,367.52 L115.30,366.06 L117.76,364.80 L120.31,363.72 L122.94,362.81 L125.63,362.03 L128.37,361.37 L131.14,360.82 L133.92,360.34 L136.71,359.93 L139.51,359.57 L142.31,359.26 L145.12,359.00 L147.92,358.76 L150.73,358.54 L153.55,358.33 L156.35,358.13 L159.16,357.92 L161.96,357.69 L164.76,357.43 L167.55,357.14 L170.34,356.81 L173.12,356.45 L175.89,356.06 L178.66,355.66 L181.43,355.24 L184.21,354.83 L186.98,354.42 L189.76,354.03 L192.54,353.67 L195.33,353.31 L198.12,352.97 L200.91,352.63 L203.70,352.29 L206.49,351.95 L209.27,351.59 L212.06,351.23 L214.84,350.84 L217.62,350.42 L220.39,349.98 L223.15,349.50 L225.91,348.97 L228.65,348.41 L231.39,347.80 L234.12,347.15 L236.84,346.45 L239.55,345.72 L242.24,344.94 L244.93,344.12 L247.60,343.26 L250.26,342.37 L252.91,341.43 L255.55,340.46 L258.17,339.45 L260.78,338.40 L263.37,337.31 L265.95,336.19 L268.52,335.04 L271.07,333.85 L273.60,332.63 L276.12,331.37 L278.62,330.08 L281.11,328.76 L283.57,327.41 L286.02,326.03 L288.45,324.61 L290.87,323.17 L293.26,321.70 L295.63,320.20 L297.99,318.67 L300.32,317.12 L302.64,315.54 L304.93,313.93 L307.20,312.30 L307.20,312.30 L307.16,315.44 L307.13,318.59 L307.10,321.73 L307.07,324.88 L307.04,328.02 L307.01,331.17 L306.99,334.31 L306.96,337.46 L306.94,340.60 L306.92,343.75 L306.89,346.89 L306.87,350.04 L306.85,353.18 L306.83,356.33 L306.80,359.47 L306.78,362.62 L306.75,365.76 L306.72,368.91 L306.69,372.05 L306.66,375.20 L306.62,378.34 L306.59,381.49 L306.54,384.63 L306.50,387.78 L306.45,390.92 L306.40,394.07 L306.34,397.21 L306.28,400.36 L306.22,403.50 L306.15,406.64 L306.07,409.79 L305.99,412.93 L305.91,416.08 L305.81,419.22 L305.71,422.36 L305.60,425.51 L305.48,428.65 L305.35,431.79 L305.19,434.92 L305.02,438.06 L304.82,441.19 L304.59,444.32 L304.32,447.45 L303.99,450.58 L303.60,453.71 L303.12,456.84 L302.55,459.97 L301.87,463.10 L301.05,466.18 L300.07,469.19 L298.91,472.09 L297.54,474.85 L295.95,477.42 L294.10,479.78 L291.97,481.90 L289.55,483.73 L286.86,485.28 L283.95,486.57 L280.87,487.61 L277.68,488.41 L274.43,488.99 L271.16,489.36 L267.92,489.55 L264.70,489.58 L261.51,489.47 L258.33,489.24 L255.18,488.93 L252.04,488.56 L248.91,488.15 L245.78,487.72 L242.66,487.31 L239.54,486.92 L236.42,486.56 L233.30,486.23 L230.18,485.92 L227.07,485.63 L223.95,485.36 L220.83,485.12 L217.71,484.90 L214.59,484.69 L211.46,484.51 L208.34,484.34 L205.21,484.19 L202.08,484.05 L198.95,483.93 L195.81,483.82 L192.67,483.73 L189.53,483.66 L186.39,483.60 L183.24,483.55 L180.09,483.53 L176.95,483.52 L173.80,483.52 L170.65,483.55 L167.49,483.59 L164.34,483.66 L161.19,483.74 L158.04,483.85 L154.89,483.97 L151.75,484.11 L148.60,484.28 L145.45,484.47 L142.31,484.68 L139.17,484.91 L136.03,485.17 L132.89,485.45 L129.76,485.76 L126.63,486.09 L123.50,486.44 L120.38,486.83 L117.26,487.23 L114.15,487.67 L111.04,488.13 L107.93,488.62 L104.84,489.14 L101.74,489.68 L98.66,490.26 L95.57,490.86 L92.50,491.50" fill="none" stroke="#ff0000" stroke-width="2.4" stroke-linejoin="miter"/>
<line x1="75.2" y1="315.2" x2="102.9" y2="315.2" stroke="#000" stroke-width="2" stroke-linecap="butt"/>
<line x1="75.2" y1="330" x2="102.9" y2="330" stroke="#ff0000" stroke-width="2" stroke-linecap="butt"/>
<text x="106.5" y="319.2" font-size="11.7">1. cycle</text>
<text x="106.5" y="334" font-size="11.7">10000. cycle</text>
<text x="199.9" y="570.1" font-size="13" text-anchor="middle" font-weight="bold">Cell voltage [V]</text>
<text x="18.3" y="410.4" font-size="13" font-weight="bold" text-anchor="middle" transform="rotate(-90 18.3 410.4)">Specific current [A g<tspan font-size="8.5" dy="-5">-1</tspan><tspan dy="5">]</tspan></text>
<text x="2.5" y="313.3" font-size="20" font-weight="bold">(c)</text>
<line x1="402" y1="313" x2="402" y2="534.3" stroke="#000" stroke-width="2" stroke-linecap="butt"/>
<line x1="401" y1="533.3" x2="671.4" y2="533.3" stroke="#000" stroke-width="2" stroke-linecap="butt"/>
<line x1="401" y1="314" x2="676.4" y2="314" stroke="#000" stroke-width="2" stroke-linecap="butt"/>
<line x1="675.4" y1="313" x2="675.4" y2="534.3" stroke="#0000ff" stroke-width="2" stroke-linecap="butt"/>
<line x1="670.4" y1="533.3" x2="676.4" y2="533.3" stroke="#0000ff" stroke-width="2" stroke-linecap="butt"/>
<line x1="402" y1="533.3" x2="407.2" y2="533.3" stroke="#000" stroke-width="1.8" stroke-linecap="butt"/>
<text x="397" y="537.3" font-size="12" text-anchor="end">0</text>
<line x1="402" y1="505.9" x2="404.6" y2="505.9" stroke="#000" stroke-width="1.8" stroke-linecap="butt"/>
<line x1="402" y1="478.5" x2="407.2" y2="478.5" stroke="#000" stroke-width="1.8" stroke-linecap="butt"/>
<text x="397" y="482.5" font-size="12" text-anchor="end">50</text>
<line x1="402" y1="451.1" x2="404.6" y2="451.1" stroke="#000" stroke-width="1.8" stroke-linecap="butt"/>
<line x1="402" y1="423.6" x2="407.2" y2="423.6" stroke="#000" stroke-width="1.8" stroke-linecap="butt"/>
<text x="397" y="427.6" font-size="12" text-anchor="end">100</text>
<line x1="402" y1="396.2" x2="404.6" y2="396.2" stroke="#000" stroke-width="1.8" stroke-linecap="butt"/>
<line x1="402" y1="368.8" x2="407.2" y2="368.8" stroke="#000" stroke-width="1.8" stroke-linecap="butt"/>
<text x="397" y="372.8" font-size="12" text-anchor="end">150</text>
<line x1="402" y1="341.4" x2="404.6" y2="341.4" stroke="#000" stroke-width="1.8" stroke-linecap="butt"/>
<line x1="402" y1="314" x2="407.2" y2="314" stroke="#000" stroke-width="1.8" stroke-linecap="butt"/>
<text x="397" y="318" font-size="12" text-anchor="end">200</text>
<line x1="402" y1="533.3" x2="402" y2="528.7" stroke="#000" stroke-width="1.6" stroke-linecap="butt"/>
<line x1="402" y1="314" x2="402" y2="318.6" stroke="#000" stroke-width="1.6" stroke-linecap="butt"/>
<text x="402" y="548.8" font-size="12" text-anchor="middle">50</text>
<line x1="429.3" y1="533.3" x2="429.3" y2="530.7" stroke="#000" stroke-width="1.6" stroke-linecap="butt"/>
<line x1="429.3" y1="314" x2="429.3" y2="316.6" stroke="#000" stroke-width="1.6" stroke-linecap="butt"/>
<line x1="456.7" y1="533.3" x2="456.7" y2="528.7" stroke="#000" stroke-width="1.6" stroke-linecap="butt"/>
<line x1="456.7" y1="314" x2="456.7" y2="318.6" stroke="#000" stroke-width="1.6" stroke-linecap="butt"/>
<text x="456.7" y="548.8" font-size="12" text-anchor="middle">60</text>
<line x1="484" y1="533.3" x2="484" y2="530.7" stroke="#000" stroke-width="1.6" stroke-linecap="butt"/>
<line x1="484" y1="314" x2="484" y2="316.6" stroke="#000" stroke-width="1.6" stroke-linecap="butt"/>
<line x1="511.4" y1="533.3" x2="511.4" y2="528.7" stroke="#000" stroke-width="1.6" stroke-linecap="butt"/>
<line x1="511.4" y1="314" x2="511.4" y2="318.6" stroke="#000" stroke-width="1.6" stroke-linecap="butt"/>
<text x="511.4" y="548.8" font-size="12" text-anchor="middle">70</text>
<line x1="538.7" y1="533.3" x2="538.7" y2="530.7" stroke="#000" stroke-width="1.6" stroke-linecap="butt"/>
<line x1="538.7" y1="314" x2="538.7" y2="316.6" stroke="#000" stroke-width="1.6" stroke-linecap="butt"/>
<line x1="566" y1="533.3" x2="566" y2="528.7" stroke="#000" stroke-width="1.6" stroke-linecap="butt"/>
<line x1="566" y1="314" x2="566" y2="318.6" stroke="#000" stroke-width="1.6" stroke-linecap="butt"/>
<text x="566" y="548.8" font-size="12" text-anchor="middle">80</text>
<line x1="593.4" y1="533.3" x2="593.4" y2="530.7" stroke="#000" stroke-width="1.6" stroke-linecap="butt"/>
<line x1="593.4" y1="314" x2="593.4" y2="316.6" stroke="#000" stroke-width="1.6" stroke-linecap="butt"/>
<line x1="620.7" y1="533.3" x2="620.7" y2="528.7" stroke="#000" stroke-width="1.6" stroke-linecap="butt"/>
<line x1="620.7" y1="314" x2="620.7" y2="318.6" stroke="#000" stroke-width="1.6" stroke-linecap="butt"/>
<text x="620.7" y="548.8" font-size="12" text-anchor="middle">90</text>
<line x1="648.1" y1="533.3" x2="648.1" y2="530.7" stroke="#000" stroke-width="1.6" stroke-linecap="butt"/>
<line x1="648.1" y1="314" x2="648.1" y2="316.6" stroke="#000" stroke-width="1.6" stroke-linecap="butt"/>
<line x1="675.4" y1="533.3" x2="675.4" y2="528.7" stroke="#000" stroke-width="1.6" stroke-linecap="butt"/>
<line x1="675.4" y1="314" x2="675.4" y2="318.6" stroke="#000" stroke-width="1.6" stroke-linecap="butt"/>
<text x="675.4" y="548.8" font-size="12" text-anchor="middle">100</text>
<line x1="675.4" y1="533.3" x2="670.4" y2="533.3" stroke="#0000ff" stroke-width="1.8" stroke-linecap="butt"/>
<text x="680.9" y="537.3" font-size="12" fill="#0000ff">0</text>
<line x1="675.4" y1="508.1" x2="672.8" y2="508.1" stroke="#0000ff" stroke-width="1.8" stroke-linecap="butt"/>
<line x1="675.4" y1="482.8" x2="670.4" y2="482.8" stroke="#0000ff" stroke-width="1.8" stroke-linecap="butt"/>
<text x="680.9" y="486.8" font-size="12" fill="#0000ff">300</text>
<line x1="675.4" y1="457.6" x2="672.8" y2="457.6" stroke="#0000ff" stroke-width="1.8" stroke-linecap="butt"/>
<line x1="675.4" y1="432.4" x2="670.4" y2="432.4" stroke="#0000ff" stroke-width="1.8" stroke-linecap="butt"/>
<text x="680.9" y="436.4" font-size="12" fill="#0000ff">600</text>
<line x1="675.4" y1="407.2" x2="672.8" y2="407.2" stroke="#0000ff" stroke-width="1.8" stroke-linecap="butt"/>
<line x1="675.4" y1="381.9" x2="670.4" y2="381.9" stroke="#0000ff" stroke-width="1.8" stroke-linecap="butt"/>
<text x="680.9" y="385.9" font-size="12" fill="#0000ff">900</text>
<line x1="675.4" y1="356.7" x2="672.8" y2="356.7" stroke="#0000ff" stroke-width="1.8" stroke-linecap="butt"/>
<line x1="675.4" y1="331.5" x2="670.4" y2="331.5" stroke="#0000ff" stroke-width="1.8" stroke-linecap="butt"/>
<text x="680.9" y="335.5" font-size="12" fill="#0000ff">1200</text>
<rect x="425.6" y="507.7" width="7.4" height="7.4" fill="#000"/>
<rect x="480.3" y="480.3" width="7.4" height="7.4" fill="#000"/>
<rect x="589.7" y="339.9" width="7.4" height="7.4" fill="#000"/>
<rect x="628" y="334.4" width="7.4" height="7.4" fill="#000"/>
<circle cx="429.3" cy="458.8" r="4.4" fill="#0000ff"/>
<circle cx="484" cy="412.4" r="4.4" fill="#0000ff"/>
<circle cx="593.4" cy="357.4" r="4.4" fill="#0000ff"/>
<circle cx="631.7" cy="440.6" r="4.4" fill="#0000ff"/>
<line x1="413" y1="512.1" x2="425.4" y2="512.1" stroke="#000" stroke-width="2" stroke-linecap="butt"/>
<path d="M404.5,512.1 L414,508.6 L414,515.6 Z" fill="#000"/>
<line x1="643.5" y1="440.5" x2="661" y2="440.5" stroke="#0000ff" stroke-width="2" stroke-linecap="butt"/>
<path d="M669.2,440.5 L659.5,437 L659.5,444 Z" fill="#0000ff"/>
<text x="539" y="570" font-size="12.5" text-anchor="middle" font-weight="bold">Film transparency [%]</text>
<text x="369.5" y="439.5" font-size="13" font-weight="bold" text-anchor="middle" transform="rotate(-90 369.5 439.5)">Mass specific capacitance [F g<tspan font-size="8.5" dy="-5">-1</tspan><tspan dy="5">]</tspan></text>
<text x="723.2" y="434.4" font-size="12.5" font-weight="bold" fill="#0000ff" text-anchor="middle" transform="rotate(-90 723.2 434.4)">Area specific capacitance [&#181;F cm<tspan font-size="8.2" dy="-5">-2</tspan><tspan dy="5">]</tspan></text>
<text x="345" y="321.5" font-size="20" font-weight="bold">(d)</text>
</svg></body></html>
